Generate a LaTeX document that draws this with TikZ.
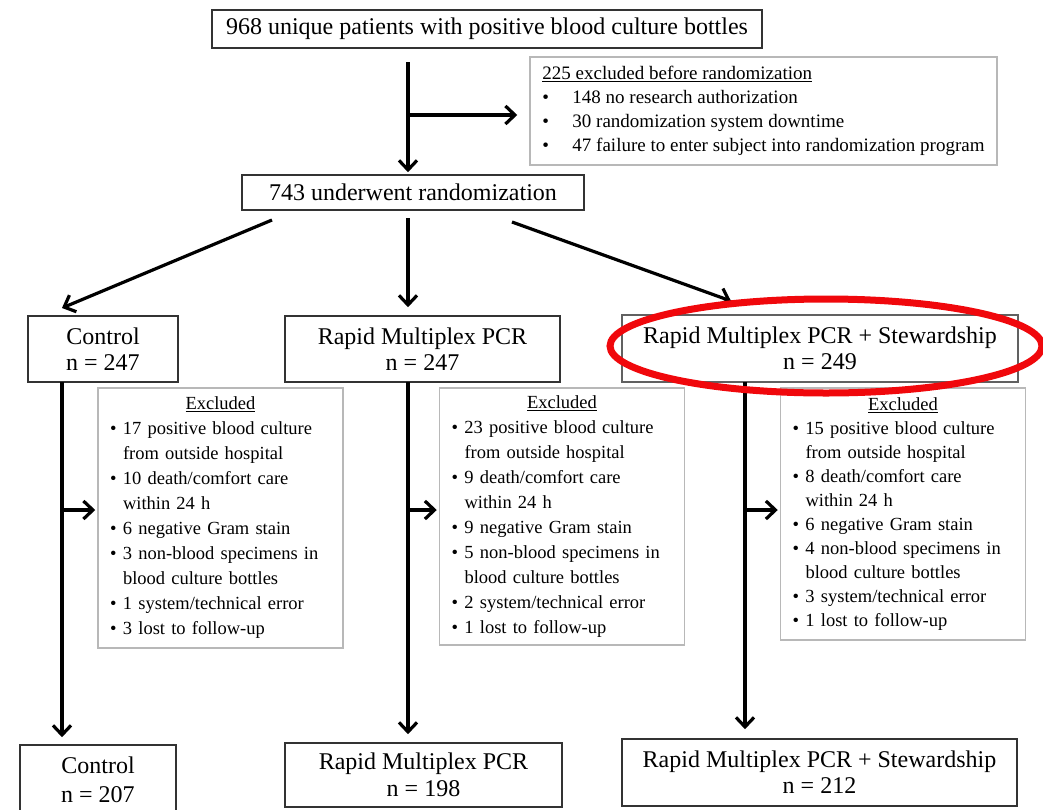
\documentclass[tikz,border=0pt]{standalone}
\usepackage{fontspec}
\setmainfont{Liberation Serif}
\usetikzlibrary{arrows.meta}

% bullet item and continuation indent for the exclusion lists
\newcommand{\bitem}{\makebox[13pt][l]{\textbullet}}
\newcommand{\bcont}{\hspace*{13pt}}
\newcommand{\bhead}[1]{\makebox[221pt]{\underline{#1}}}

\begin{document}
\begin{tikzpicture}[x=1pt,y=-1pt,
  mainbox/.style={draw=black!80, line width=1.6pt, align=center, inner sep=0pt,
    font=\fontsize{24}{26}\selectfont},
  greybox/.style={draw=black!28, line width=1.5pt, align=left, inner xsep=12pt,
    inner ysep=0pt, text width=221pt, minimum width=245pt,
    font=\fontsize{18.5}{25}\selectfont},
  arr/.style={line width=3.2pt, -{Straight Barb[length=9.5pt,width=18pt]}},
  ring/.style={draw={rgb,255:red,240;green,8;blue,12}, line width=7pt}]

\useasboundingbox (0,0) rectangle (1043,809);
\clip (0,0) rectangle (1043,809);

% ---- enrolment ----
\node[mainbox, minimum width=550pt, minimum height=38pt] (all) at (487,29)
  {968 unique patients with positive blood culture bottles};

\node[draw=black!28, line width=1.5pt, align=left, inner sep=0pt,
      minimum width=467pt, minimum height=108pt,
      font=\fontsize{19}{24}\selectfont] (pre) at (763.5,111)
  {\underline{225 excluded before randomization}\\
   \makebox[30pt][l]{\textbullet}148 no research authorization\\
   \makebox[30pt][l]{\textbullet}30 randomization system downtime\\
   \makebox[30pt][l]{\textbullet}47 failure to enter subject into randomization program};

\node[mainbox, minimum width=342pt, minimum height=35pt] (rand) at (413,192.5)
  {743 underwent randomization};

% ---- allocation ----
\node[mainbox, minimum width=150pt, minimum height=66pt] (ctl) at (103,349)
  {Control\\ n = 247};
\node[mainbox, minimum width=275pt, minimum height=66pt] (pcr) at (422.5,349)
  {Rapid Multiplex PCR\\ n = 247};
\node[mainbox, draw=black!62, minimum width=396pt, minimum height=67pt] (stw) at (820,348.5)
  {Rapid Multiplex PCR + Stewardship\\ n = 249};

% ---- exclusions after allocation ----
\node[greybox, minimum height=260pt] (exctl) at (220.5,518)
  {\bhead{Excluded}\\
   \bitem 17 positive blood culture\\
   \bcont from outside hospital\\
   \bitem 10 death/comfort care\\
   \bcont within 24 h\\
   \bitem 6 negative Gram stain\\
   \bitem 3 non-blood specimens in\\
   \bcont blood culture bottles\\
   \bitem 1 system/technical error\\
   \bitem 3 lost to follow-up};
\node[greybox, minimum height=257pt] (expcr) at (562,516.5)
  {\bhead{Excluded}\\
   \bitem 23 positive blood culture\\
   \bcont from outside hospital\\
   \bitem 9 death/comfort care\\
   \bcont within 24 h\\
   \bitem 9 negative Gram stain\\
   \bitem 5 non-blood specimens in\\
   \bcont blood culture bottles\\
   \bitem 2 system/technical error\\
   \bitem 1 lost to follow-up};
\node[greybox, minimum height=252pt, font=\fontsize{18.5}{24}\selectfont] (exstw) at (903,514)
  {\bhead{Excluded}\\
   \bitem 15 positive blood culture\\
   \bcont from outside hospital\\
   \bitem 8 death/comfort care\\
   \bcont within 24 h\\
   \bitem 6 negative Gram stain\\
   \bitem 4 non-blood specimens in\\
   \bcont blood culture bottles\\
   \bitem 3 system/technical error\\
   \bitem 1 lost to follow-up};

% ---- analysed ----
\node[mainbox, minimum width=156pt, minimum height=70pt] (ctlf) at (98,780)
  {Control\\[3pt] n = 207};
\node[mainbox, minimum width=277pt, minimum height=64pt] (pcrf) at (423.5,775)
  {Rapid Multiplex PCR\\[1pt] n = 198};
\node[mainbox, minimum width=395pt, minimum height=67pt] (stwf) at (819.5,772.5)
  {Rapid Multiplex PCR + Stewardship\\ n = 212};

% ---- flow ----
\coordinate (s0) at (408,62);
\coordinate (b0) at (408,115);
\draw[arr, shorten >=2pt] (s0) -- (s0 |- rand.north);
\draw[arr, shorten >=12pt] (b0) -- (b0 -| pre.west);

\coordinate (sL) at (272,220);
\coordinate (sM) at (408,218);
\coordinate (sR) at (512,222);
\coordinate (tL) at (62,308);
\coordinate (tR) at (731,301);
\draw[arr] (sL) -- (tL);
\draw[arr, shorten >=8pt] (sM) -- (sM |- pcr.north);
\draw[arr] (sR) -- (tR);

\coordinate (vL) at (62,382);
\coordinate (vM) at (408,382);
\coordinate (vR) at (745,382);
\draw[arr, shorten >=7pt] (vL) -- (vL |- ctlf.north);
\draw[arr, shorten >=8pt] (vM) -- (vM |- pcrf.north);
\draw[arr, shorten >=9pt] (vR) -- (vR |- stwf.north);

\coordinate (hL) at (62,510);
\coordinate (hM) at (408,510);
\coordinate (hR) at (745,510);
\draw[arr, shorten >=2pt] (hL) -- (hL -| exctl.west);
\draw[arr, shorten >=2pt] (hM) -- (hM -| expcr.west);
\draw[arr, shorten >=2pt] (hR) -- (hR -| exstw.west);

% ---- highlight ring ----
\draw[ring] (826,346) ellipse [x radius=216, y radius=47];
\end{tikzpicture}
\end{document}
